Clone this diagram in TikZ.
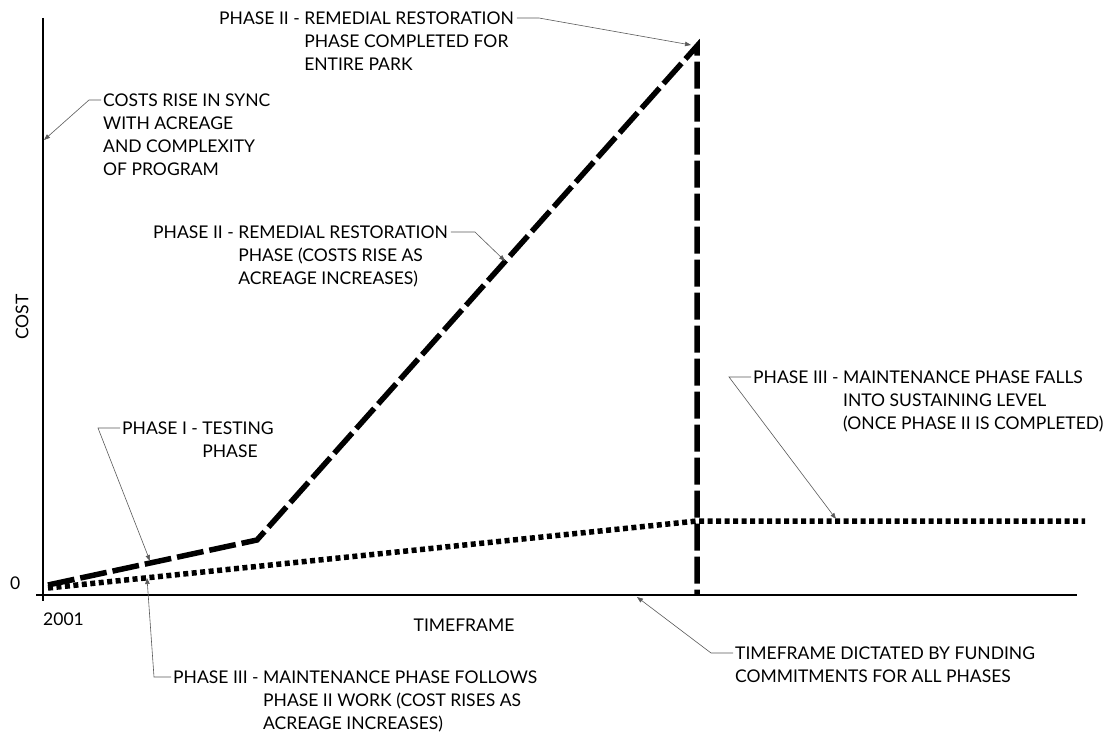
\documentclass[tikz,border=0pt]{standalone}
\usepackage{fontspec}
\setmainfont{Lato}
\usetikzlibrary{arrows.meta}
\tikzset{
  axis/.style={line width=1.6pt},
  leader/.style={draw=black!65, line width=0.6pt, -{Triangle[length=6pt,width=4.5pt]}},
  note/.style={inner sep=0pt, anchor=base west, font=\fontsize{17.5}{23}\selectfont},
  phasetwo/.style={line width=5.5pt, dash pattern=on 27pt off 6pt, line join=miter},
  phasethree/.style={line width=5.5pt, dash pattern=on 5pt off 3.5pt},
}
\newcommand{\hangtext}[1]{\begin{tabular}[t]{@{}l@{ }l@{}}#1\end{tabular}}
\begin{document}
\begin{tikzpicture}[x=1pt,y=-1pt]
  \useasboundingbox (0,0) rectangle (1116,733);
  \coordinate (o) at (43,595);
  \coordinate (ytop) at (43,18);
  \coordinate (ybot) at (43,601);
  \coordinate (xbeg) at (36,595);
  \coordinate (xend) at (1077,595);
  \coordinate (start) at (48,585);
  \coordinate (knee) at (257,540);
  \coordinate (peak) at (697,46);
  \coordinate (peakfoot) at (697,595);
  \coordinate (low) at (48,588);
  \coordinate (level) at (697,521);
  \coordinate (levelend) at (1085,521);
  \coordinate (onyaxis) at (44,140);
  \coordinate (onpeak) at (691,45);
  \coordinate (onrise) at (505,261);
  \coordinate (ontest) at (150,561);
  \coordinate (onlow) at (147,578);
  \coordinate (onlevel) at (836,519);
  \coordinate (onxaxis) at (637,597);

  \draw[axis] (ytop) -- (ybot);
  \draw[axis] (xbeg) -- (xend);
  \draw[phasethree] (low) -- (level) -- (levelend);
  \draw[phasetwo] (start) -- (knee) -- (peak) -- (peakfoot);

  \node[note] (zero) at (10,589) {0};
  \node[note] (year) at (43,625) {2001};
  \node[note, anchor=center] (timeframe) at (464,625) {TIMEFRAME};
  \node[note, anchor=center, rotate=90] (cost) at (22,317) {COST};

  \node[note] (sync) at (103,106.3)
    {\begin{tabular}[t]{@{}l@{}}COSTS RISE IN SYNC\\WITH ACREAGE\\AND COMPLEXITY\\OF PROGRAM\end{tabular}};
  \node[note] (done) at (219,24.3)
    {\hangtext{PHASE II - & REMEDIAL RESTORATION\\ & PHASE COMPLETED FOR\\ & ENTIRE PARK}};
  \node[note] (rise) at (153,238.3)
    {\hangtext{PHASE II - & REMEDIAL RESTORATION\\ & PHASE (COSTS RISE AS\\ & ACREAGE INCREASES)}};
  \node[note] (testing) at (122,434.3)
    {\hangtext{PHASE I - & TESTING\\ & PHASE}};
  \node[note] (follows) at (173,683.3)
    {\hangtext{PHASE III - & MAINTENANCE PHASE FOLLOWS\\ & PHASE II WORK (COST RISES AS\\ & ACREAGE INCREASES)}};
  \node[note] (falls) at (753,383.3)
    {\hangtext{PHASE III - & MAINTENANCE PHASE FALLS\\ & INTO SUSTAINING LEVEL\\ & (ONCE PHASE II IS COMPLETED)}};
  \node[note] (funding) at (735,659.3)
    {\begin{tabular}[t]{@{}l@{}}TIMEFRAME DICTATED BY FUNDING\\COMMITMENTS FOR ALL PHASES\end{tabular}};

  \draw[leader] ([shift={(-2pt,6.3pt)}]sync.base west) -- ++(-12,0) -- (onyaxis);
  \draw[leader] ([shift={(3pt,6.3pt)}]done.base east) -- ++(22,0) -- (onpeak);
  \draw[leader] ([shift={(3pt,6.3pt)}]rise.base east) -- ++(24,0) -- (onrise);
  \draw[leader] ([shift={(-2pt,6.3pt)}]testing.base west) -- ++(-22,0) -- (ontest);
  \draw[leader] ([shift={(-2pt,6.3pt)}]follows.base west) -- ++(-17,0) -- (onlow);
  \draw[leader] ([shift={(-2pt,6.3pt)}]falls.base west) -- ++(-22,0) -- (onlevel);
  \draw[leader] ([shift={(-2pt,6.3pt)}]funding.base west) -- ++(-22,0) -- (onxaxis);
\end{tikzpicture}
\end{document}
